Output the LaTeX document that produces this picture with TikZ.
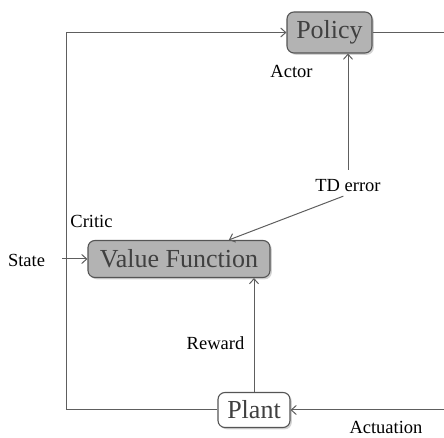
\documentclass[tikz,border=0pt]{standalone}
\usepackage{fontspec}
\setmainfont{Liberation Serif}
\usetikzlibrary{shadows,arrows.meta}
\definecolor{boxgray}{HTML}{B3B3B3}
\definecolor{edgegray}{HTML}{555555}
\definecolor{txtgray}{HTML}{404040}
\definecolor{linegray}{HTML}{5E5E5E}
\tikzset{
  block/.style={draw=edgegray, line width=1.1pt, rounded corners=7pt, text=txtgray,
    font=\fontsize{26}{30}\selectfont, inner xsep=7pt, inner ysep=5pt,
    drop shadow={shadow xshift=1.8pt, shadow yshift=-1.8pt, opacity=0.35}},
  grayblock/.style={block, fill=boxgray},
  whiteblock/.style={block, fill=white},
  lbl/.style={font=\fontsize{18.5}{22}\selectfont, text=black, inner sep=2pt, anchor=base},
  conn/.style={draw=linegray, line width=1pt},
  arr/.style={conn, -{Straight Barb[length=5pt,width=9pt,line width=1pt]}},
}
\begin{document}
\begin{tikzpicture}[x=1pt,y=1pt]
\useasboundingbox (0,0) rectangle (444,438);
\node[grayblock, minimum width=85pt, minimum height=41pt] (policy) at (329.5,405.5) {Policy};
\node[grayblock, minimum width=182pt, minimum height=37pt] (vf) at (179,179) {Value Function};
\node[whiteblock, minimum width=72pt, minimum height=35pt] (plant) at (254,28) {Plant};
\node[lbl] (actor) at (291.5,360) {Actor};
\node[lbl] (critic) at (91.5,210) {Critic};
\node[lbl] (state) at (26.5,171) {State};
\node[lbl] (td) at (348,246) {TD error};
\node[lbl] (reward) at (215.5,88) {Reward};
\node[lbl] (actuation) at (386,4) {Actuation};
\coordinate (leftbot) at (66,28);
\coordinate (lefttop) at (66,405.5);
\coordinate (rtop) at (444,405.5);
\coordinate (rbot) at (444,28);
\coordinate (stateout) at (62,179);
\draw[arr] (plant.west) -- (leftbot) -- (lefttop) -- (policy.west);
\draw[conn] (policy.east) -- (rtop);
\draw[arr] (rbot) -- (plant.east);
\draw[arr] (stateout) -- (vf.west);
\draw[arr] (plant.north) -- (vf.south -| plant.north);
\draw[arr, shorten <=8pt] (td.north) -- (td.north |- policy.south);
\draw[arr, shorten <=5pt] (td.south) -- (vf);
\end{tikzpicture}
\end{document}
